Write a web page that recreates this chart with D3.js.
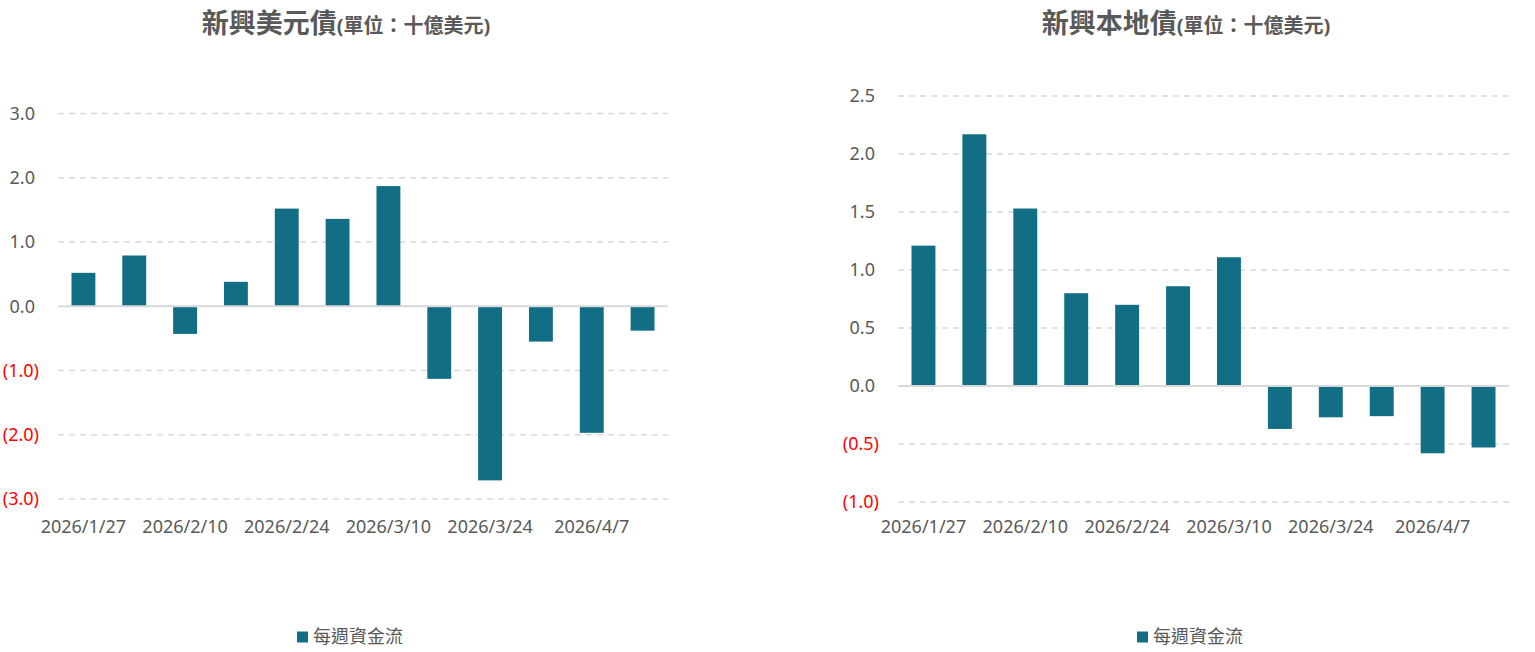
<!DOCTYPE html>
<html><head><meta charset="utf-8">
<script src="https://cdn.jsdelivr.net/npm/d3@7"></script>
<style>
body{margin:0;background:#fff;}
svg text{font-family:"Noto Sans","Noto Sans CJK TC",sans-serif;}
</style></head><body>
<svg id="c" width="1535" height="652"></svg>
<script>
const dates = ["2026/1/27","2026/2/3","2026/2/10","2026/2/17","2026/2/24","2026/3/3","2026/3/10","2026/3/17","2026/3/24","2026/3/31","2026/4/7","2026/4/14"];
const usdBond = [0.52,0.79,-0.43,0.38,1.52,1.36,1.87,-1.13,-2.71,-0.55,-1.97,-0.38];
const localBond = [1.21,2.17,1.53,0.80,0.70,0.86,1.11,-0.37,-0.27,-0.26,-0.58,-0.53];
const usdTicks = [-3,-2,-1,0,1,2,3];
const localTicks = [-1,-0.5,0,0.5,1,1.5,2,2.5];
const titles = ["新興美元債","新興本地債"];
const unitLabel = "(單位：十億美元)";
const legendLabel = "每週資金流";

const svg = d3.select("#c");
const barColor = "#116e85";
const fmt = v => v < 0 ? "(" + d3.format(".1f")(-v) + ")" : d3.format(".1f")(v);

function drawChart(cfg){
  const g = svg.append("g");
  const x = d3.scaleBand().domain(dates).range([cfg.x0, cfg.x1]).paddingInner(0.53).paddingOuter(0.265);
  const y = d3.scaleLinear().domain(cfg.domain).range(cfg.yr);
  // grid
  g.selectAll("line.grid").data(cfg.ticks.filter(t=>t!==0)).join("line")
    .attr("x1",cfg.x0).attr("x2",cfg.x1).attr("y1",d=>y(d)).attr("y2",d=>y(d))
    .attr("stroke","#d9d9d9").attr("stroke-width",1.3).attr("stroke-dasharray","6,5");
  // bars
  g.selectAll("rect").data(cfg.values).join("rect")
    .attr("x",(d,i)=>x(dates[i])).attr("width",x.bandwidth())
    .attr("y",d=>y(Math.max(0,d))).attr("height",d=>Math.abs(y(d)-y(0)))
    .attr("fill",barColor);
  // zero line
  g.append("line").attr("x1",cfg.x0).attr("x2",cfg.x1).attr("y1",y(0)).attr("y2",y(0))
    .attr("stroke","#d9d9d9").attr("stroke-width",2);
  // y axis labels
  const ya = d3.axisLeft(y).tickValues(cfg.ticks).tickFormat(fmt).tickSize(0).tickPadding(19);
  const yg = g.append("g").attr("transform",`translate(${cfg.x0},0)`).call(ya);
  yg.select(".domain").remove();
  yg.selectAll("text").attr("font-size",18).attr("fill",d=>d<0?"#ff0000":"#595959")
    .attr("dx",d=>d<0?0:-4);
  // x axis labels
  const xa = d3.axisBottom(x).tickValues(dates.filter((d,i)=>i%2===0)).tickSize(0).tickPadding(0);
  const xg = g.append("g").attr("transform",`translate(0,${cfg.xLabelY})`).call(xa);
  xg.select(".domain").remove();
  xg.selectAll("text").attr("font-size",18).attr("fill","#595959").attr("dy","0.7em");
  // title
  const t = g.append("text").attr("x",cfg.titleX).attr("y",33).attr("text-anchor","middle")
    .attr("fill","#595959").attr("font-weight","bold");
  t.append("tspan").attr("font-size",27).text(cfg.title);
  t.append("tspan").attr("font-size",20).text(unitLabel);
  // legend
  const lg = g.append("g").attr("transform",`translate(${cfg.legendX},637)`);
  lg.append("rect").attr("x",0).attr("y",-5.5).attr("width",11).attr("height",11).attr("fill",barColor);
  lg.append("text").attr("x",16).attr("y",0).attr("dy","0.35em").attr("font-size",18).attr("fill","#595959").text(legendLabel);
}

drawChart({x0:58,x1:668,domain:[-3,3],yr:[499,113.5],ticks:usdTicks,values:usdBond,xLabelY:520,titleX:346,title:titles[0],legendX:297});
drawChart({x0:898,x1:1509,domain:[-1,2.5],yr:[502,96],ticks:localTicks,values:localBond,xLabelY:520,titleX:1186,title:titles[1],legendX:1137});
</script></body></html>
